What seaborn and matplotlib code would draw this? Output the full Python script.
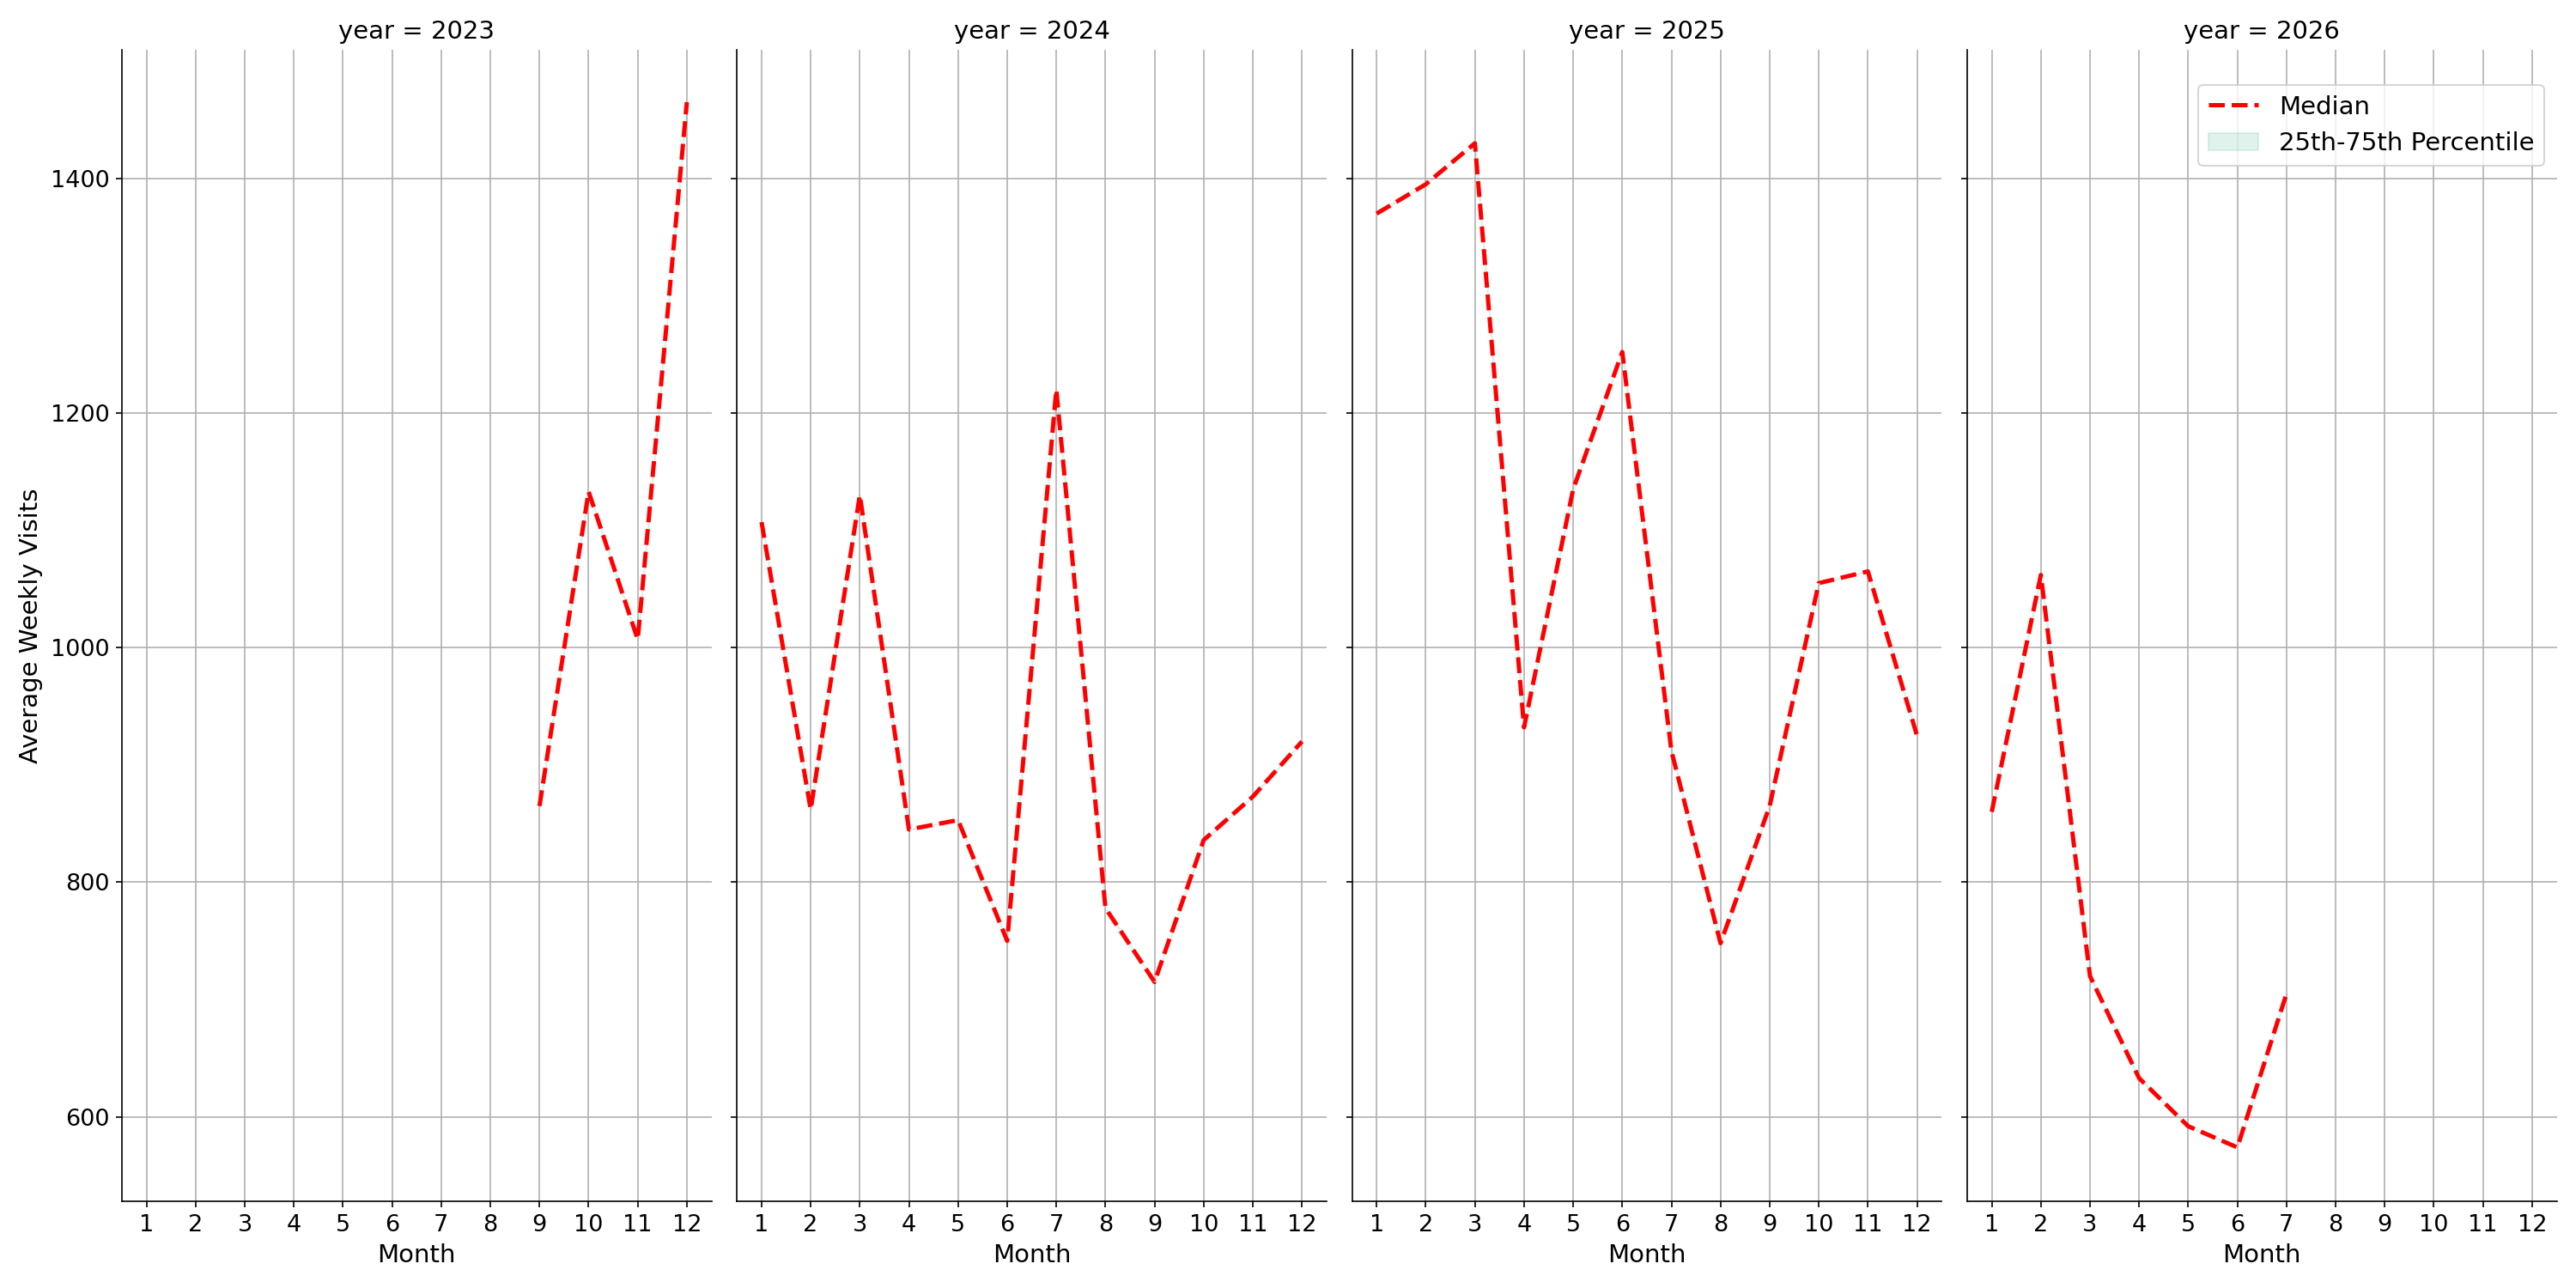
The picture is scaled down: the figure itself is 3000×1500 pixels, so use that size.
import matplotlib
matplotlib.use("Agg")
import matplotlib.pyplot as plt
import pandas as pd
import seaborn as sns

years = [2023, 2024, 2025, 2026]
months_2023 = [9, 10, 11, 12]
visits_2023 = [865, 1133, 1007, 1465]
months_2024 = list(range(1, 13))
visits_2024 = [1107, 862, 1130, 845, 853, 750, 1220, 778, 715, 836, 873, 920]
months_2025 = list(range(1, 13))
visits_2025 = [1370, 1395, 1430, 932, 1135, 1252, 912, 748, 865, 1055, 1065, 925]
months_2026 = [1, 2, 3, 4, 5, 6, 7]
visits_2026 = [860, 1062, 720, 633, 592, 574, 705]

frames = []
for y, m, v in zip(years, [months_2023, months_2024, months_2025, months_2026],
                   [visits_2023, visits_2024, visits_2025, visits_2026]):
    frames.append(pd.DataFrame({"year": y, "month": m, "median": v}))
df = pd.concat(frames, ignore_index=True)


def draw(data, **kwargs):
    ax = plt.gca()
    ax.fill_between(data["month"], data["median"], data["median"],
                    color="#66c2a5", alpha=0.2, label="25th-75th Percentile")
    ax.plot(data["month"], data["median"], color="red", linestyle="--",
            linewidth=2.4, label="Median")


g = sns.FacetGrid(df, col="year", height=10, aspect=0.5, sharey=True)
g.map_dataframe(draw)
g.figure.set_size_inches(20, 10)
g.set_titles("year = {col_name}", size=14)
g.set_axis_labels("Month", "Average Weekly Visits", size=14)
for ax in g.axes.flat:
    ax.set_xticks(range(1, 13))
    ax.set_xlim(0.5, 12.5)
    ax.set_ylim(528, 1510)
    ax.grid(True)
    ax.tick_params(labelsize=13)
last = g.axes.flat[-1]
h, l = last.get_legend_handles_labels()
order = [l.index("Median"), l.index("25th-75th Percentile")]
last.legend([h[i] for i in order], [l[i] for i in order], loc="upper right",
            bbox_to_anchor=(1.0, 0.98), fontsize=14)
g.figure.tight_layout()
g.figure.savefig("out.png", dpi=150)
